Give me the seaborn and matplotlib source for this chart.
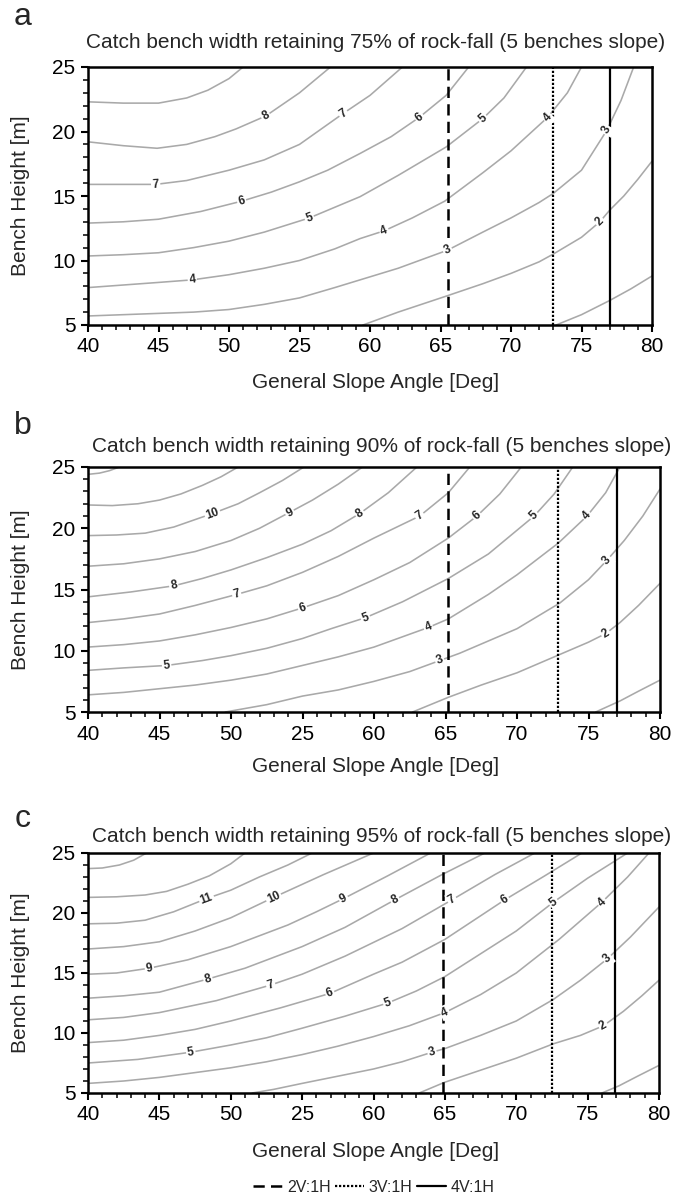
import numpy as np
import pandas as pd
import matplotlib.pyplot as plt
from matplotlib.lines import Line2D
import seaborn as sns

# ---- panel a : 75% retention ----
A_LEVELS = [1, 2, 3, 4, 5, 6, 7, 8, 9]
A_X = [
    [73.2, 75, 77, 78.5, 80],
    [59.5, 62, 65.3, 68, 70, 72, 73, 75, 76.3, 77, 78, 79, 80],
    [40, 42.5, 45, 47.5, 50, 52.5, 55, 57.5, 59.3, 62, 65.5, 68, 70, 72, 73, 75, 76.8, 77.8, 78.7],
    [40, 42.5, 45, 47.4, 50, 52.5, 55, 57.5, 59.3, 61, 63, 65.3, 68, 70, 72.6, 74, 75],
    [40, 42.5, 45, 47.5, 50, 52.5, 55.7, 59.3, 62, 65.4, 68, 69.5, 71.1],
    [40, 42.5, 45, 48, 50.9, 53, 55, 57, 59.3, 61.5, 63.5, 65.4, 67],
    [40, 42.5, 44.8, 47, 50, 52.5, 55, 58.1, 60, 62.3],
    [40, 42.5, 44.9, 47, 49, 50.5, 52.6, 55, 57.2],
    [40, 42.5, 45, 47, 48.5, 50, 51],
]
A_Y = [
    [5.0, 5.8, 6.9, 7.8, 8.8],
    [5.0, 6.0, 7.2, 8.2, 9.0, 9.9, 10.5, 11.8, 13.0, 13.9, 15.0, 16.3, 17.7],
    [5.7, 5.8, 5.9, 6.0, 6.2, 6.6, 7.1, 7.9, 8.5, 9.4, 10.8, 12.2, 13.3, 14.5, 15.2, 17.0, 20.1, 22.4, 25.0],
    [7.9, 8.1, 8.3, 8.5, 8.9, 9.4, 10.0, 10.9, 11.7, 12.3, 13.3, 14.6, 16.8, 18.5, 21.1, 23.0, 25.0],
    [10.35, 10.45, 10.6, 11.0, 11.5, 12.2, 13.3, 14.95, 16.6, 18.8, 21.0, 22.6, 25.0],
    [12.9, 13.0, 13.2, 13.8, 14.6, 15.3, 16.1, 17.0, 18.3, 19.6, 21.1, 22.8, 25.0],
    [15.9, 15.9, 15.9, 16.2, 17.0, 17.8, 19.0, 21.4, 22.8, 25.0],
    [19.2, 18.9, 18.7, 19.0, 19.6, 20.2, 21.2, 23.0, 25.0],
    [22.3, 22.2, 22.2, 22.6, 23.2, 24.1, 25.0],
]
A_LABEL_LEVEL = [8, 7, 7, 6, 6, 5, 5, 4, 4, 4, 3, 3, 2]
A_LABEL_X = [52.6, 44.8, 58.1, 50.9, 63.5, 55.7, 68.0, 47.4, 61.0, 72.6, 65.5, 76.8, 76.3]
A_VLINES = [65.5, 73.0, 77.0]

# ---- panel b : 90% retention ----
B_LEVELS = [1, 2, 3, 4, 5, 6, 7, 8, 9, 10, 11, 12]
B_X = [
    [75.5, 77.2, 78.5, 80],
    [62.7, 65.2, 67.5, 70, 73, 75, 76.2, 77.2, 78.5, 80],
    [49.6, 52.5, 55, 57.5, 60, 62.5, 64.6, 66, 68, 70, 73, 75, 76.3, 77.5, 78.8, 80],
    [40, 42.5, 45, 47.5, 50, 52.5, 55, 57.5, 60, 63.8, 65.2, 68, 70, 72.9, 74.9, 76.2, 77.2],
    [40, 42.5, 45.5, 48, 50, 52.5, 55, 57, 59.4, 62, 65.2, 68, 71.2, 72.6, 73.9],
    [40, 42.5, 45, 47.5, 50, 52.5, 55, 57.5, 60, 62.5, 65.2, 67.2, 68.8, 70.3],
    [40, 42.5, 45, 47.5, 50.4, 52.5, 55, 57.5, 60, 63.2, 65.2, 66.7],
    [40, 43, 46, 48, 50, 52.5, 55, 57, 59.0, 61, 63.0],
    [40, 42.5, 45, 47.5, 50, 52, 54.1, 55.7, 57.5, 59.2],
    [40, 42, 44, 46, 48.7, 50.5, 52, 53.6, 55.1],
    [40, 41.7, 43.5, 45, 46.5, 48, 49.3, 50.5],
    [40, 40.8, 41.5, 42.2],
]
B_Y = [
    [5.0, 5.9, 6.7, 7.6],
    [5.0, 6.2, 7.2, 8.2, 9.7, 10.7, 11.4, 12.3, 13.7, 15.5],
    [5.0, 5.6, 6.3, 6.8, 7.5, 8.3, 9.2, 9.8, 10.8, 11.8, 13.9, 15.8, 17.4, 19.0, 21.0, 23.2],
    [6.4, 6.6, 6.9, 7.2, 7.6, 8.1, 8.8, 9.5, 10.3, 11.9, 12.6, 14.6, 16.2, 18.8, 21.0, 22.9, 25.0],
    [8.4, 8.6, 8.8, 9.2, 9.6, 10.2, 11.0, 11.8, 12.7, 14.0, 15.9, 17.9, 21.0, 22.8, 25.0],
    [10.3, 10.5, 10.8, 11.3, 11.9, 12.6, 13.5, 14.5, 15.8, 17.2, 19.2, 21.0, 22.8, 25.0],
    [12.3, 12.6, 13.0, 13.7, 14.6, 15.3, 16.4, 17.7, 19.2, 21.0, 22.9, 25.0],
    [14.4, 14.8, 15.3, 15.9, 16.6, 17.6, 18.7, 19.8, 21.2, 22.9, 25.0],
    [16.9, 17.1, 17.5, 18.1, 19.0, 20.0, 21.3, 22.3, 23.6, 25.0],
    [19.4, 19.45, 19.6, 20.1, 21.2, 22.0, 22.9, 23.9, 25.0],
    [21.9, 21.85, 22.0, 22.3, 22.8, 23.5, 24.2, 25.0],
    [24.4, 24.5, 24.7, 25.0],
]
B_LABEL_LEVEL = [10, 9, 8, 7, 6, 5, 4, 3, 2, 8, 7, 6, 5, 4, 3, 5]
B_LABEL_X = [48.7, 54.1, 59.0, 63.2, 67.2, 71.2, 74.9, 76.3, 76.2, 46.0, 50.4, 55.0, 59.4, 63.8, 64.6, 45.5]
B_VLINES = [65.2, 72.9, 77.0]

# ---- panel c : 95% retention ----
C_LEVELS = [1, 2, 3, 4, 5, 6, 7, 8, 9, 10, 11, 12, 13]
C_X = [
    [76.0, 77.2, 78.5, 80],
    [63.2, 65, 67.5, 70, 72.6, 74.5, 76.1, 77.5, 78.8, 80],
    [51.5, 53, 55, 57.5, 60, 62, 64.1, 65, 67.5, 70, 72.6, 74.5, 76.4, 78, 80],
    [40, 42.5, 45, 47.5, 50, 52.5, 55, 57.5, 60, 62.5, 65, 67.5, 70, 73, 76.0, 77.8, 79.3],
    [40, 43.5, 47.2, 50, 52.5, 55, 58, 61, 63, 65, 70, 72.6, 75, 77.8],
    [40, 42.5, 45, 47.5, 50, 53.5, 56.95, 60, 62, 65, 69.2, 72, 74.6],
    [40, 42.5, 45, 49, 52.8, 55, 58, 62, 65.5, 68.5, 71.3],
    [40, 42.5, 45, 48.4, 51, 55, 58, 61.5, 64.8, 67.8],
    [40, 42, 44.3, 47, 50, 52, 54, 56, 57.9, 61, 64.0],
    [40, 42.5, 45, 47.5, 50, 53.0, 56.5, 60.0],
    [40, 42, 44, 46, 48.3, 50, 52, 54, 55.7],
    [40, 42, 44, 45.5, 47, 48.5, 50, 51],
    [40, 41, 42.2, 43.2, 44.1],
]
C_Y = [
    [5.0, 5.6, 6.4, 7.3],
    [5.0, 5.9, 6.9, 7.9, 9.1, 9.8, 10.6, 11.8, 13.1, 14.4],
    [5.0, 5.3, 5.8, 6.4, 7.0, 7.6, 8.4, 8.7, 9.8, 11.0, 12.8, 14.4, 16.2, 18.0, 20.5],
    [5.8, 6.0, 6.3, 6.7, 7.1, 7.6, 8.2, 8.9, 9.7, 10.6, 11.7, 13.2, 15.0, 17.8, 20.9, 23.0, 25.0],
    [7.5, 7.8, 8.4, 9.0, 9.6, 10.4, 11.4, 12.5, 13.5, 14.7, 18.5, 20.9, 22.9, 25.0],
    [9.2, 9.4, 9.8, 10.3, 11.0, 12.1, 13.3, 14.9, 15.9, 17.8, 21.1, 23.1, 25.0],
    [11.1, 11.3, 11.7, 12.7, 14.0, 14.9, 16.4, 18.7, 21.1, 23.2, 25.0],
    [12.9, 13.1, 13.4, 14.5, 15.4, 17.2, 18.8, 21.1, 23.2, 25.0],
    [14.9, 15.0, 15.4, 16.1, 17.2, 18.1, 19.0, 20.1, 21.2, 23.1, 25.0],
    [17.0, 17.2, 17.6, 18.5, 19.6, 21.3, 23.2, 25.0],
    [19.1, 19.15, 19.4, 20.1, 21.2, 21.9, 23.0, 24.0, 25.0],
    [21.3, 21.35, 21.5, 21.8, 22.4, 23.1, 24.1, 25.0],
    [23.7, 23.75, 24.0, 24.4, 25.0],
]
C_LABEL_LEVEL = [11, 10, 9, 8, 7, 6, 5, 4, 3, 2, 9, 8, 7, 6, 5, 4, 3, 5]
C_LABEL_X = [48.3, 53.0, 57.9, 61.5, 65.5, 69.2, 72.6, 76.0, 76.4, 76.1, 44.3, 48.4, 52.8, 56.95, 61.0, 65.0, 64.1, 47.2]
C_VLINES = [64.9, 72.5, 76.9]

TITLES = [
    "Catch bench width retaining 75% of rock-fall (5 benches slope)",
    "Catch bench width retaining 90% of rock-fall (5 benches slope)",
    "Catch bench width retaining 95% of rock-fall (5 benches slope)",
]
LETTERS = ["a", "b", "c"]
X_TICKS = [40, 45, 50, 55, 60, 65, 70, 75, 80]
X_TICK_LABELS = ["40", "45", "50", "25", "60", "65", "70", "75", "80"]
Y_TICKS = [5, 10, 15, 20, 25]
SLOPE_NAMES = ["2V:1H", "3V:1H", "4V:1H"]

W, H = 682, 1197
sns.set_style("white")
plt.rcParams['font.family'] = ['Liberation Sans', 'DejaVu Sans']

fig = plt.figure(figsize=(W / 100, H / 100), dpi=100)

# pixel boxes of the three axes: left, top, right, bottom
BOXES = [(88, 67, 652, 325), (88, 467, 660, 712), (88, 853, 659, 1093)]
TITLE_POS = [(376, 43), (382, 447), (382, 837)]
LETTER_POS = [(23, 17), (23, 426), (23, 819)]
XLABEL_Y = [373, 757, 1142]
FS = 15

VSTYLES = [dict(ls=(0, (4.5, 2.5)), lw=1.8), dict(ls=(0, (1, 0.8)), lw=1.6), dict(ls='-', lw=1.6)]


def draw_panel(i, levels, xs, ys, lab_levels, lab_x, vlines):
    l, t, r, b = BOXES[i]
    ax = fig.add_axes([l / W, 1 - b / H, (r - l) / W, (b - t) / H])
    rows = [(lev, x, y) for lev, xx, yy in zip(levels, xs, ys) for x, y in zip(xx, yy)]
    df = pd.DataFrame(rows, columns=['level', 'angle', 'height'])
    sns.lineplot(data=df, x='angle', y='height', units='level', estimator=None,
                 sort=False, color='#a9a9a9', lw=1.15, ax=ax)
    ax.set_xlim(40, 80)
    ax.set_ylim(5, 25)

    for v, st in zip(vlines, VSTYLES):
        ax.axvline(v, color='black', **st)

    # inline contour labels, rotated along the line
    for lev, lx in zip(lab_levels, lab_x):
        k = levels.index(lev)
        xx, yy = np.array(xs[k]), np.array(ys[k])
        ly = np.interp(lx, xx, yy)
        p0 = ax.transData.transform((lx - 0.5, np.interp(lx - 0.5, xx, yy)))
        p1 = ax.transData.transform((lx + 0.5, np.interp(lx + 0.5, xx, yy)))
        ang = np.degrees(np.arctan2(p1[1] - p0[1], p1[0] - p0[0]))
        ax.text(lx, ly, str(lev), fontsize=8.5, fontweight='bold', ha='center', va='center',
                rotation=ang, rotation_mode='anchor', zorder=5,
                bbox=dict(boxstyle='square,pad=0.12', fc='white', ec='none'))

    ax.set_xticks(X_TICKS)
    ax.set_xticklabels(X_TICK_LABELS)
    ax.set_yticks(Y_TICKS)
    ax.set_xticks(np.arange(40, 81, 1), minor=True)
    ax.set_yticks(np.arange(5, 26, 1), minor=True)
    ax.tick_params(axis='both', which='major', direction='out', length=5, width=1.5,
                   labelsize=FS, colors='black', pad=4)
    ax.tick_params(axis='both', which='minor', direction='out', length=3.5, width=1.3)
    ax.tick_params(bottom=True, left=True, top=False, right=False, which='both')
    for s in ax.spines.values():
        s.set_linewidth(1.8)
        s.set_color('black')

    ax.set_xlabel("General Slope Angle [Deg]", fontsize=FS)
    ax.set_ylabel("Bench Height [m]", fontsize=FS)
    ax.xaxis.set_label_coords((376 - l) / (r - l), -(XLABEL_Y[i] - b) / (b - t))
    ax.yaxis.set_label_coords((30 - l) / (r - l), 0.5)

    fig.text(TITLE_POS[i][0] / W, 1 - TITLE_POS[i][1] / H, TITLES[i], fontsize=FS,
             ha='center', va='center')
    fig.text(LETTER_POS[i][0] / W, 1 - LETTER_POS[i][1] / H, LETTERS[i], fontsize=23,
             ha='center', va='center')
    return ax


draw_panel(0, A_LEVELS, A_X, A_Y, A_LABEL_LEVEL, A_LABEL_X, A_VLINES)
draw_panel(1, B_LEVELS, B_X, B_Y, B_LABEL_LEVEL, B_LABEL_X, B_VLINES)
draw_panel(2, C_LEVELS, C_X, C_Y, C_LABEL_LEVEL, C_LABEL_X, C_VLINES)

handles = [Line2D([], [], color='black', **st) for st in VSTYLES]
fig.legend(handles, SLOPE_NAMES, loc='center', bbox_to_anchor=(374 / W, 1 - 1187 / H),
           ncol=3, frameon=False, fontsize=11.5, handlelength=1.8, handletextpad=0.3,
           columnspacing=0.3, borderpad=0.1)

fig.savefig("out.png", dpi=100)
